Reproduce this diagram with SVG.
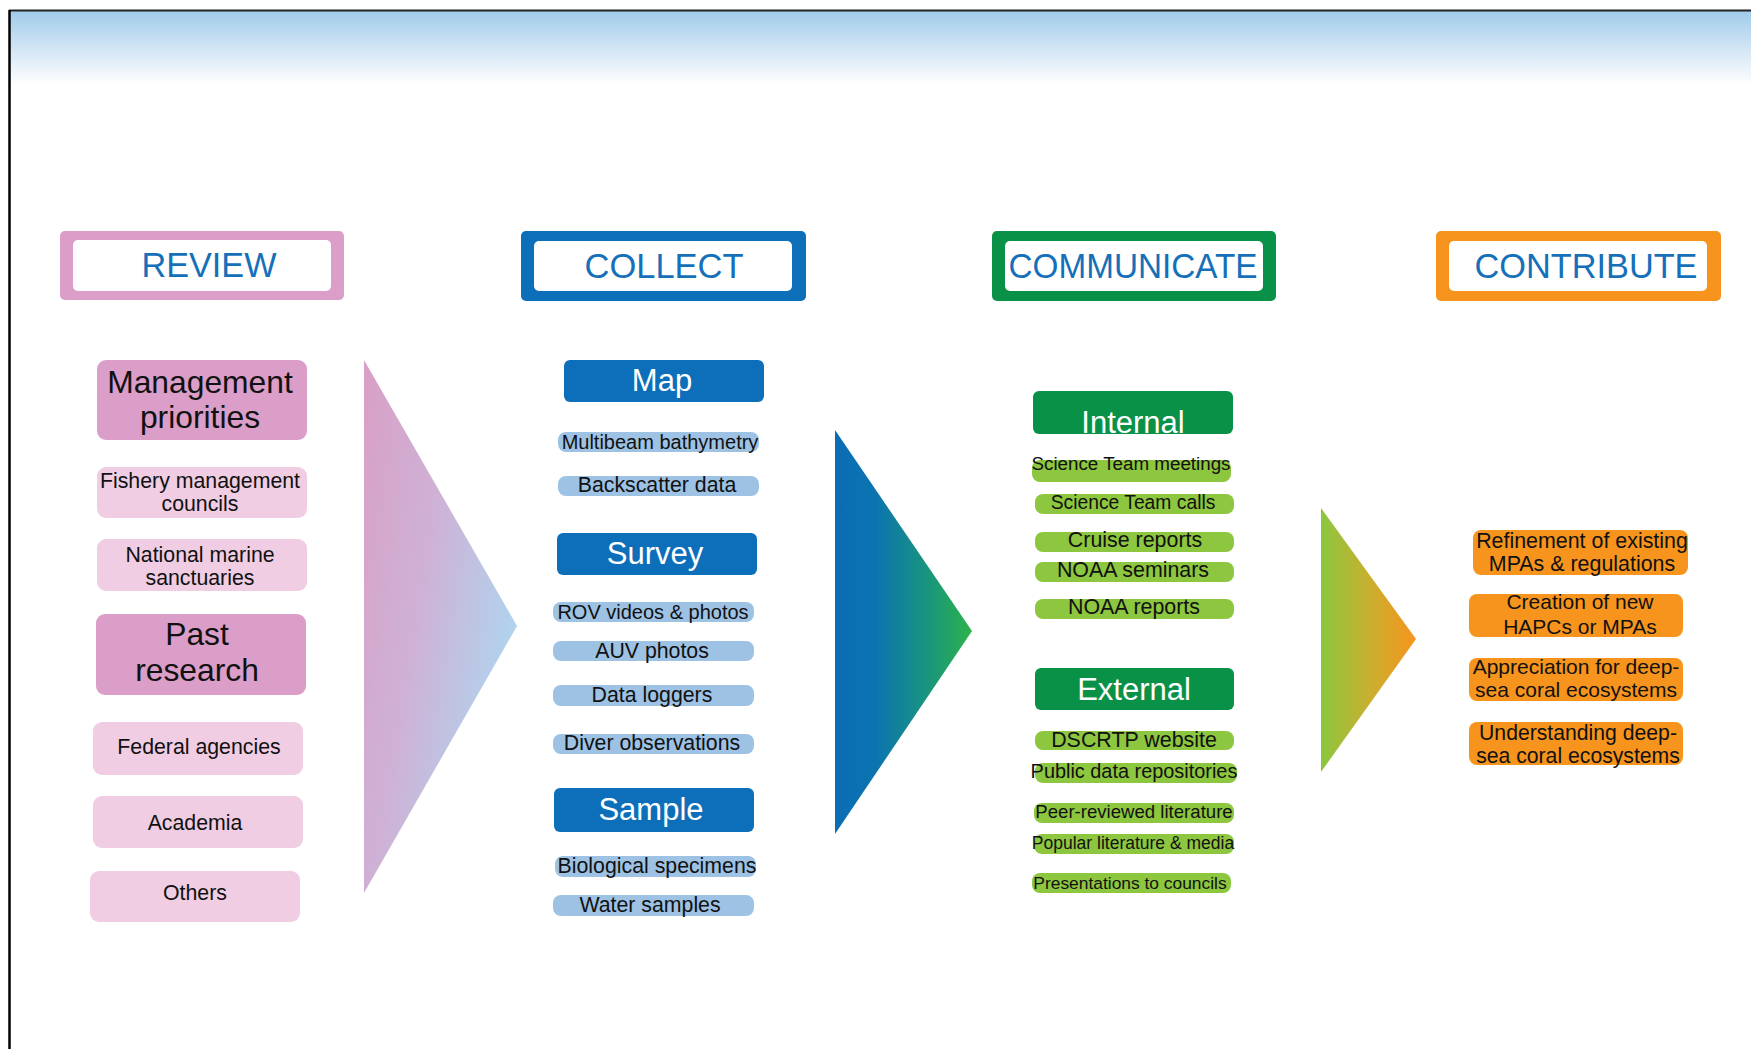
<svg xmlns="http://www.w3.org/2000/svg" width="1751" height="1049" viewBox="0 0 1751 1049">
<defs>
<linearGradient id="sky" x1="0" y1="0" x2="0" y2="1">
<stop offset="0" stop-color="#9fcbea"/>
<stop offset="0.55" stop-color="#d6e7f5"/>
<stop offset="1" stop-color="#ffffff"/>
</linearGradient>
<linearGradient id="gPink" gradientUnits="userSpaceOnUse" x1="364" y1="360" x2="556" y2="392">
<stop offset="0" stop-color="#d99fc6"/>
<stop offset="0.5" stop-color="#ceb2d6"/>
<stop offset="1" stop-color="#b0d4ee"/>
</linearGradient>
<linearGradient id="gBlue" x1="0" y1="0" x2="1" y2="0">
<stop offset="0" stop-color="#0a6db6"/>
<stop offset="0.3" stop-color="#0b74b0"/>
<stop offset="0.7" stop-color="#1a977a"/>
<stop offset="1" stop-color="#2db34a"/>
</linearGradient>
<linearGradient id="gGreen" x1="0" y1="0" x2="1" y2="0">
<stop offset="0" stop-color="#8cc63f"/>
<stop offset="0.5" stop-color="#c8b030"/>
<stop offset="1" stop-color="#f7941d"/>
</linearGradient>
<style>
text{font-family:"Liberation Sans",Arial,sans-serif;text-anchor:middle}
.hd{font-size:35px;fill:#1570b9}
.big{font-size:31.8px;fill:#111}
.bigw{font-size:31px;fill:#fff}
.sm{font-size:21.3px;fill:#111}
.pk{fill:#da9ec8}
.lpk{fill:#f0cde2}
.bl{fill:#0d6fba}
.lbl{fill:#9dc2e4}
.gr{fill:#0a9148}
.lgr{fill:#8dc63f}
.or{fill:#f7941d}
.in{fill:#fff}
</style>
</defs>

<rect x="10" y="11" width="1741" height="74" fill="url(#sky)"/>
<line x1="9" y1="10.5" x2="1751" y2="10.5" stroke="#222" stroke-width="2"/>
<line x1="9.5" y1="10" x2="9.5" y2="1049" stroke="#000" stroke-width="2.5"/>

<g id="hdr-review">
<rect class="pk" x="60" y="231" width="284" height="69" rx="5"/>
<rect class="in" x="73" y="240" width="258" height="51" rx="5"/>
<text class="hd" x="209" y="277" textLength="135" lengthAdjust="spacingAndGlyphs">REVIEW</text>
</g>
<g id="hdr-collect">
<rect class="bl" x="521" y="231" width="285" height="70" rx="5"/>
<rect class="in" x="534" y="241" width="258" height="50" rx="5"/>
<text class="hd" x="664" y="278" textLength="159" lengthAdjust="spacingAndGlyphs">COLLECT</text>
</g>
<g id="hdr-communicate">
<rect class="gr" x="992" y="231" width="284" height="70" rx="5"/>
<rect class="in" x="1005" y="241" width="258" height="50" rx="5"/>
<text class="hd" x="1133" y="278" textLength="249" lengthAdjust="spacingAndGlyphs">COMMUNICATE</text>
</g>
<g id="hdr-contribute">
<rect class="or" x="1436" y="231" width="285" height="70" rx="5"/>
<rect class="in" x="1449" y="241" width="258" height="50" rx="5"/>
<text class="hd" x="1586" y="278" textLength="223" lengthAdjust="spacingAndGlyphs">CONTRIBUTE</text>
</g>

<g id="connectors">
<polygon points="364,360 517,626 364,893" fill="url(#gPink)"/>
<polygon points="835,430 972,631 835,834" fill="url(#gBlue)"/>
<polygon points="1321,508 1416,639 1321,772" fill="url(#gGreen)"/>
</g>

<g id="review-management">
<rect class="pk" x="97" y="360" width="210" height="80" rx="9"/>
<text class="big" x="200" y="393">Management</text>
<text class="big" x="200" y="428">priorities</text>
</g>
<g id="review-fishery">
<rect class="lpk" x="97" y="467" width="210" height="51" rx="9"/>
<text class="sm" x="200" y="488">Fishery management</text>
<text class="sm" x="200" y="511">councils</text>
</g>
<g id="review-sanctuaries">
<rect class="lpk" x="97" y="539" width="210" height="52" rx="9"/>
<text class="sm" x="200" y="562">National marine</text>
<text class="sm" x="200" y="585">sanctuaries</text>
</g>
<g id="review-past">
<rect class="pk" x="96" y="614" width="210" height="81" rx="9"/>
<text class="big" x="197" y="645">Past</text>
<text class="big" x="197" y="681">research</text>
</g>
<g id="review-federal">
<rect class="lpk" x="93" y="722" width="210" height="53" rx="9"/>
<text class="sm" x="199" y="754">Federal agencies</text>
</g>
<g id="review-academia">
<rect class="lpk" x="93" y="796" width="210" height="52" rx="9"/>
<text class="sm" x="195" y="830">Academia</text>
</g>
<g id="review-others">
<rect class="lpk" x="90" y="871" width="210" height="51" rx="9"/>
<text class="sm" x="195" y="900">Others</text>
</g>

<g id="collect-map">
<rect class="bl" x="564" y="360" width="200" height="42" rx="6"/>
<text class="bigw" x="662" y="391">Map</text>
</g>
<g id="collect-multibeam">
<rect class="lbl" x="558" y="432" width="201" height="20" rx="8"/>
<text class="sm" x="660" y="449" style="font-size:20px">Multibeam bathymetry</text>
</g>
<g id="collect-backscatter">
<rect class="lbl" x="558" y="476" width="201" height="20" rx="8"/>
<text class="sm" x="657" y="492">Backscatter data</text>
</g>
<g id="collect-survey">
<rect class="bl" x="557" y="533" width="200" height="42" rx="6"/>
<text class="bigw" x="655" y="564">Survey</text>
</g>
<g id="collect-rov">
<rect class="lbl" x="553" y="602" width="201" height="20" rx="8"/>
<text class="sm" x="653" y="619" style="font-size:20px">ROV videos &amp; photos</text>
</g>
<g id="collect-auv">
<rect class="lbl" x="553" y="641" width="201" height="20" rx="8"/>
<text class="sm" x="652" y="658">AUV photos</text>
</g>
<g id="collect-loggers">
<rect class="lbl" x="553" y="685" width="201" height="21" rx="8"/>
<text class="sm" x="652" y="702">Data loggers</text>
</g>
<g id="collect-diver">
<rect class="lbl" x="553" y="734" width="201" height="20" rx="8"/>
<text class="sm" x="652" y="750">Diver observations</text>
</g>
<g id="collect-sample">
<rect class="bl" x="554" y="788" width="200" height="44" rx="6"/>
<text class="bigw" x="651" y="820">Sample</text>
</g>
<g id="collect-bio">
<rect class="lbl" x="555" y="856" width="201" height="21" rx="8"/>
<text class="sm" x="657" y="873">Biological specimens</text>
</g>
<g id="collect-water">
<rect class="lbl" x="553" y="895" width="201" height="21" rx="8"/>
<text class="sm" x="650" y="912">Water samples</text>
</g>

<g id="comm-internal">
<rect class="gr" x="1033" y="391" width="200" height="43" rx="6"/>
<text class="bigw" x="1133" y="433">Internal</text>
</g>
<g id="comm-meetings">
<rect class="lgr" x="1032" y="460" width="199" height="22" rx="8"/>
<text class="sm" x="1131" y="470" style="font-size:18.8px">Science Team meetings</text>
</g>
<g id="comm-calls">
<rect class="lgr" x="1035" y="494" width="199" height="20" rx="8"/>
<text class="sm" x="1133" y="509" style="font-size:19.3px">Science Team calls</text>
</g>
<g id="comm-cruise">
<rect class="lgr" x="1035" y="532" width="199" height="20" rx="8"/>
<text class="sm" x="1135" y="547" style="font-size:21.4px">Cruise reports</text>
</g>
<g id="comm-seminars">
<rect class="lgr" x="1035" y="562" width="199" height="20" rx="8"/>
<text class="sm" x="1133" y="577" style="font-size:21.4px">NOAA seminars</text>
</g>
<g id="comm-reports">
<rect class="lgr" x="1035" y="599" width="199" height="20" rx="8"/>
<text class="sm" x="1134" y="614" style="font-size:21.4px">NOAA reports</text>
</g>
<g id="comm-external">
<rect class="gr" x="1035" y="668" width="199" height="42" rx="6"/>
<text class="bigw" x="1134" y="700">External</text>
</g>
<g id="comm-website">
<rect class="lgr" x="1035" y="731" width="199" height="19" rx="8"/>
<text class="sm" x="1134" y="747" style="font-size:21.4px">DSCRTP website</text>
</g>
<g id="comm-repos">
<rect class="lgr" x="1035" y="763" width="202" height="20" rx="8"/>
<text class="sm" x="1134" y="778" style="font-size:19.9px">Public data repositories</text>
</g>
<g id="comm-peer">
<rect class="lgr" x="1034" y="803" width="200" height="20" rx="8"/>
<text class="sm" x="1134" y="818" style="font-size:18.6px">Peer-reviewed literature</text>
</g>
<g id="comm-popular">
<rect class="lgr" x="1034" y="834" width="200" height="20" rx="8"/>
<text class="sm" x="1133" y="849" style="font-size:17.5px">Popular literature &amp; media</text>
</g>
<g id="comm-presentations">
<rect class="lgr" x="1032" y="873" width="199" height="20" rx="8"/>
<text class="sm" x="1130" y="889" style="font-size:17.4px">Presentations to councils</text>
</g>

<g id="contrib-refinement">
<rect class="or" x="1473" y="530" width="215" height="45" rx="8"/>
<text class="sm" x="1582" y="548" style="font-size:21.4px">Refinement of existing</text>
<text class="sm" x="1582" y="571" style="font-size:21.4px">MPAs &amp; regulations</text>
</g>
<g id="contrib-creation">
<rect class="or" x="1469" y="594" width="214" height="43" rx="8"/>
<text class="sm" x="1580" y="609" style="font-size:21px">Creation of new</text>
<text class="sm" x="1580" y="634" style="font-size:21px">HAPCs or MPAs</text>
</g>
<g id="contrib-appreciation">
<rect class="or" x="1469" y="658" width="214" height="43" rx="8"/>
<text class="sm" x="1576" y="674" style="font-size:21px">Appreciation for deep-</text>
<text class="sm" x="1576" y="697" style="font-size:21px">sea coral ecosystems</text>
</g>
<g id="contrib-understanding">
<rect class="or" x="1469" y="722" width="214" height="43" rx="8"/>
<text class="sm" x="1578" y="740" style="font-size:21.2px">Understanding deep-</text>
<text class="sm" x="1578" y="763" style="font-size:21.2px">sea coral ecosystems</text>
</g>
</svg>
